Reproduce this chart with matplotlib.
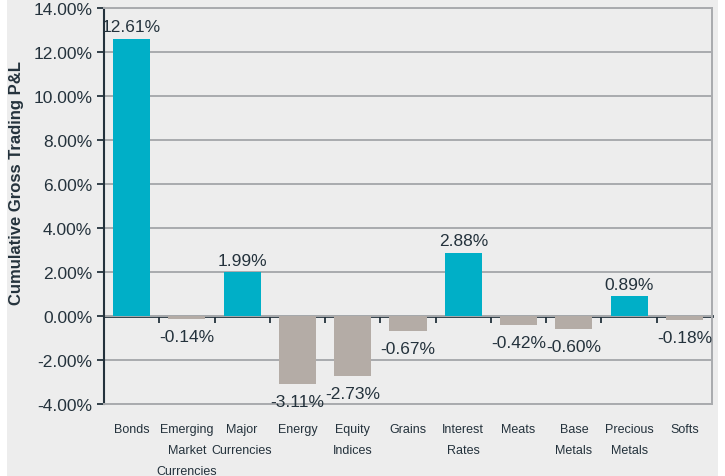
import matplotlib
matplotlib.use("Agg")
import matplotlib.pyplot as plt
from matplotlib.patches import Rectangle
from matplotlib.ticker import FuncFormatter
import numpy as np

categories = ["Bonds", "Emerging\nMarket\nCurrencies", "Major\nCurrencies", "Energy",
              "Equity\nIndices", "Grains", "Interest\nRates", "Meats", "Base\nMetals",
              "Precious\nMetals", "Softs"]
pnl = [12.61, -0.14, 1.99, -3.11, -2.73, -0.67, 2.88, -0.42, -0.60, 0.89, -0.18]

teal = "#00AFC7"
taupe = "#B4ACA6"
txt = "#24323C"
grid = "#A9ABAE"
bg = "#EDEDED"

fig = plt.figure(figsize=(7.25, 4.77), dpi=100)
fig.patches.append(Rectangle((7 / 725, 0), 711 / 725, 1, transform=fig.transFigure,
                             facecolor=bg, edgecolor="none", zorder=-10))
ax = fig.add_axes([104 / 725, 72 / 477, 608 / 725, 396 / 477])
ax.set_facecolor(bg)

x = np.arange(len(categories))
colors = [teal if v >= 0 else taupe for v in pnl]
ax.bar(x, pnl, width=0.67, color=colors, zorder=3)

narrow = ["Liberation Sans Narrow", "Liberation Sans", "DejaVu Sans"]
for xi, v in zip(x, pnl):
    if v >= 0:
        # the tallest label sits against the top of the plot
        ax.text(xi, min(v + 0.2, 13.3), f"{v:.2f}%", ha="center", va="bottom",
                fontsize=12.5, color=txt, family=narrow, zorder=4)
    else:
        ax.text(xi, v - 0.45, f"{v:.2f}%", ha="center", va="top", fontsize=12.5,
                color=txt, family=narrow, zorder=4)

ax.set_xlim(-0.5, len(categories) - 0.5)
ax.set_ylim(-4, 14)
ax.set_yticks(np.arange(-4, 15, 2))
ax.yaxis.set_major_formatter(FuncFormatter(lambda v, p: f"{v:.2f}%"))
ax.grid(axis="y", color=grid, linewidth=1.4, zorder=0)
ax.tick_params(axis="y", direction="out", length=5, width=1.3, color=txt,
               labelsize=12.5, labelcolor=txt)
for lab in ax.get_yticklabels():
    lab.set_family(narrow)

ax.set_xticks(x)
ax.set_xticklabels(categories, fontsize=9, color=txt, family=narrow, linespacing=2.0)
ax.tick_params(axis="x", length=0, pad=14)

for side in ["top", "right", "bottom"]:
    ax.spines[side].set_color(grid)
    ax.spines[side].set_linewidth(1.4)
ax.spines["left"].set_color(txt)
ax.spines["left"].set_linewidth(1.5)

# zero line with ticks between categories
zero = ax.secondary_xaxis(4 / 18)
zero.set_xticks(x[:-1] + 0.5)
zero.set_xticklabels([])
zero.tick_params(axis="x", direction="out", length=5, width=1.3, color=txt)
zero.spines["bottom"].set_color(txt)
zero.spines["bottom"].set_linewidth(2)

fig.text(17 / 725, 1 - 183 / 477, "Cumulative Gross Trading P&L", rotation=90,
         ha="center", va="center", fontsize=12, fontweight="bold", color=txt,
         family=["Liberation Sans", "DejaVu Sans"])

fig.savefig("out.png", dpi=100)
